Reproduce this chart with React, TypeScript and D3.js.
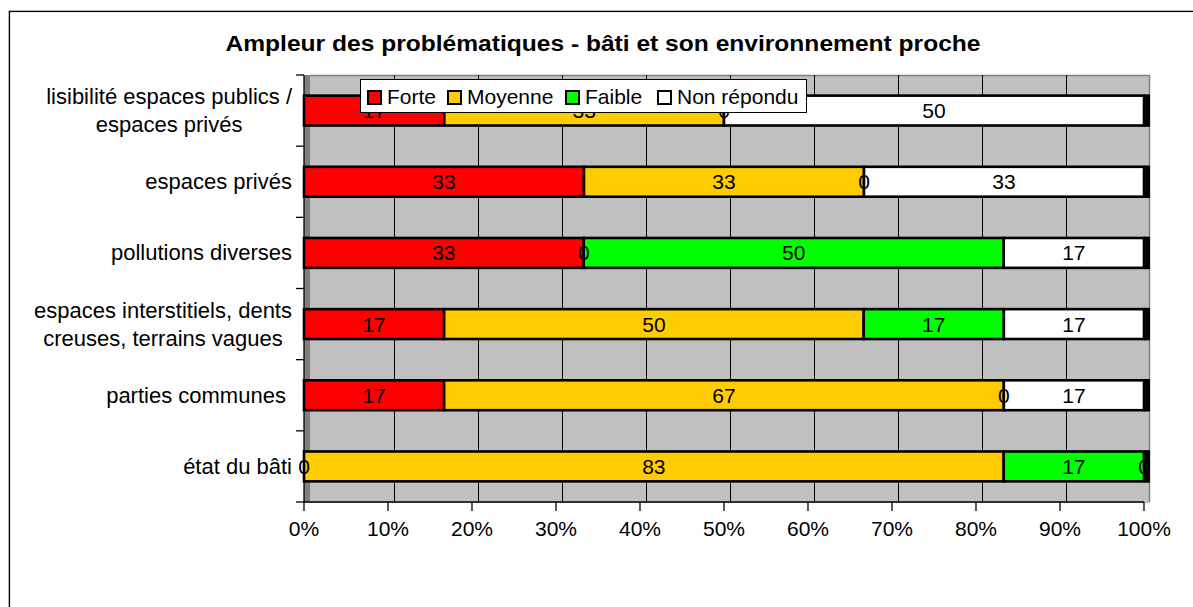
import React, { useEffect, useRef } from "react";
import * as d3 from "d3";

const categories = [
  "lisibilité espaces publics /\nespaces privés",
  "espaces privés",
  "pollutions diverses",
  "espaces interstitiels, dents\ncreuses, terrains vagues",
  "parties communes ",
  "état du bâti",
];
const seriesNames = ["Forte", "Moyenne", "Faible", "Non répondu"];
const forte = [16.7, 33.3, 33.3, 16.7, 16.7, 0];
const moyenne = [33.3, 33.3, 0, 50, 66.7, 83.3];
const faible = [0, 0, 50, 16.7, 0, 16.7];
const nonRepondu = [50, 33.3, 16.7, 16.7, 16.7, 0];
const seriesColors = ["#FF0000", "#FFCC00", "#00FF00", "#FFFFFF"];
const xTicks = [0, 0.1, 0.2, 0.3, 0.4, 0.5, 0.6, 0.7, 0.8, 0.9, 1];
const title = "Ampleur des problématiques - bâti et son environnement proche";

const FONT = "'Liberation Sans', Arial, sans-serif";

export default function App() {
  const ref = useRef<SVGSVGElement | null>(null);

  useEffect(() => {
    const svg = d3.select(ref.current);
    svg.selectAll("*").remove();

    const left = 304, right = 1144, top = 75, bottom = 502, depth = 6;
    const x = d3.scaleLinear().domain([0, 1]).range([left, right]);
    const y = d3.scaleBand().domain(categories).range([top, bottom]).paddingInner(0.58).paddingOuter(0.29);
    const band = d3.scaleBand().domain(categories).range([top, bottom]);

    const table = categories.map((c, i) => ({
      cat: c,
      Forte: forte[i],
      Moyenne: moyenne[i],
      Faible: faible[i],
      "Non répondu": nonRepondu[i],
    }));
    const stacked = d3.stack<any>().keys(seriesNames).offset(d3.stackOffsetExpand)(table);

    // outer border
    svg.append("rect").attr("x", 8.5).attr("y", 10.5).attr("width", 1300).attr("height", 700)
      .attr("fill", "none").attr("stroke", "#c8c8c8").attr("stroke-width", 1);
    svg.append("rect").attr("x", 9.5).attr("y", 11.5).attr("width", 1300).attr("height", 700)
      .attr("fill", "#fff").attr("stroke", "#000").attr("stroke-width", 1.2);

    // title
    svg.append("text").attr("x", 603).attr("y", 51).attr("text-anchor", "middle")
      .attr("font-family", FONT).attr("font-size", 22).attr("font-weight", "bold")
      .attr("textLength", 755).attr("lengthAdjust", "spacingAndGlyphs").text(title);

    // walls
    svg.append("rect").attr("x", left).attr("y", top).attr("width", right + depth - left).attr("height", bottom - top + 1)
      .attr("fill", "#c0c0c0");
    svg.append("rect").attr("x", left).attr("y", top).attr("width", depth).attr("height", bottom - top)
      .attr("fill", "#808080");
    svg.append("path")
      .attr("d", `M${left + depth},${top + 0.5}H${right + depth - 0.5}V${bottom}`)
      .attr("fill", "none").attr("stroke", "#808080").attr("stroke-width", 1.5);

    // gridlines on back wall
    svg.append("g").selectAll("line").data(xTicks.slice(1, -1)).join("line")
      .attr("x1", (d) => Math.round(x(d)) + depth + 0.5).attr("x2", (d) => Math.round(x(d)) + depth + 0.5)
      .attr("y1", top).attr("y2", bottom)
      .attr("stroke", "#000").attr("stroke-width", 1);

    // bars
    const barG = svg.append("g");
    stacked.forEach((s, si) => {
      barG.append("g").selectAll("rect").data(s).join("rect")
        .attr("x", (d: any) => x(d[0]))
        .attr("y", (d: any) => y(d.data.cat)!)
        .attr("width", (d: any) => Math.max(0, x(d[1]) - x(d[0])))
        .attr("height", y.bandwidth())
        .attr("fill", seriesColors[si])
        .attr("stroke", "#000").attr("stroke-width", 2.6);
    });
    // bar end faces
    barG.append("g").selectAll("rect").data(categories).join("rect")
      .attr("x", right).attr("y", (d) => y(d)! - 1.3).attr("width", depth).attr("height", y.bandwidth() + 2.6)
      .attr("fill", "#000");

    // value labels
    const vals = [forte, moyenne, faible, nonRepondu];
    const labG = svg.append("g").attr("font-family", FONT).attr("font-size", 21).attr("text-anchor", "middle");
    stacked.forEach((s, si) => {
      labG.append("g").selectAll("text").data(s).join("text")
        .attr("x", (d: any) => (x(d[0]) + x(d[1])) / 2)
        .attr("y", (d: any) => y(d.data.cat)! + y.bandwidth() / 2 + 7.5)
        .text((d: any, i: number) => String(Math.round(vals[si][i])));
    });

    // axes
    const axG = svg.append("g").attr("stroke", "#000").attr("stroke-width", 1.3);
    axG.append("line").attr("x1", left).attr("x2", left).attr("y1", top).attr("y2", bottom);
    axG.append("line").attr("x1", left).attr("x2", right).attr("y1", bottom).attr("y2", bottom);
    const bounds = categories.map((c) => band(c)!).concat([bottom]);
    axG.selectAll(".yt").data(bounds).join("line").attr("class", "yt")
      .attr("x1", left - 8).attr("x2", left).attr("y1", (d) => d).attr("y2", (d) => d);
    axG.selectAll(".xt").data(xTicks).join("line").attr("class", "xt")
      .attr("x1", (d) => x(d)).attr("x2", (d) => x(d)).attr("y1", bottom).attr("y2", bottom + 9);

    svg.append("g").attr("font-family", FONT).attr("font-size", 21).attr("text-anchor", "middle")
      .selectAll("text").data(xTicks).join("text")
      .attr("x", (d) => x(d)).attr("y", 536)
      .text((d) => d3.format(".0%")(d));

    // category labels
    const catG = svg.append("g").attr("font-family", FONT).attr("font-size", 22);
    const labelRight = 292;
    categories.forEach((c) => {
      const lines = c.split("\n");
      const cy = band(c)! + band.bandwidth() / 2;
      const lh = 28;
      const g = catG.append("g");
      const texts = lines.map((ln, li) =>
        g.append("text").attr("xml:space", "preserve").style("white-space", "pre")
          .attr("y", cy + 7.5 + (li - (lines.length - 1) / 2) * lh).text(ln)
      );
      const widths = texts.map((t) => (t.node() as SVGTextElement).getComputedTextLength());
      const w = Math.max(...widths);
      const cx = labelRight - w / 2;
      texts.forEach((t) => t.attr("x", cx).attr("text-anchor", "middle"));
    });

    // legend
    const lg = svg.append("g").attr("font-family", FONT).attr("font-size", 21);
    lg.append("rect").attr("x", 360.5).attr("y", 79.5).attr("width", 446).attr("height", 33)
      .attr("fill", "#fff").attr("stroke", "#000").attr("stroke-width", 1);
    const legendX = [368, 448, 566, 658];
    seriesNames.forEach((n, i) => {
      lg.append("rect").attr("x", legendX[i]).attr("y", 91).attr("width", 13).attr("height", 13)
        .attr("fill", seriesColors[i]).attr("stroke", "#000").attr("stroke-width", 2);
      lg.append("text").attr("x", legendX[i] + 19).attr("y", 104).text(n);
    });
  }, []);

  return (
    <svg
      ref={ref}
      width={1193}
      height={607}
      style={{ position: "absolute", left: 0, top: 0, display: "block", background: "#fff" }}
    />
  );
}
